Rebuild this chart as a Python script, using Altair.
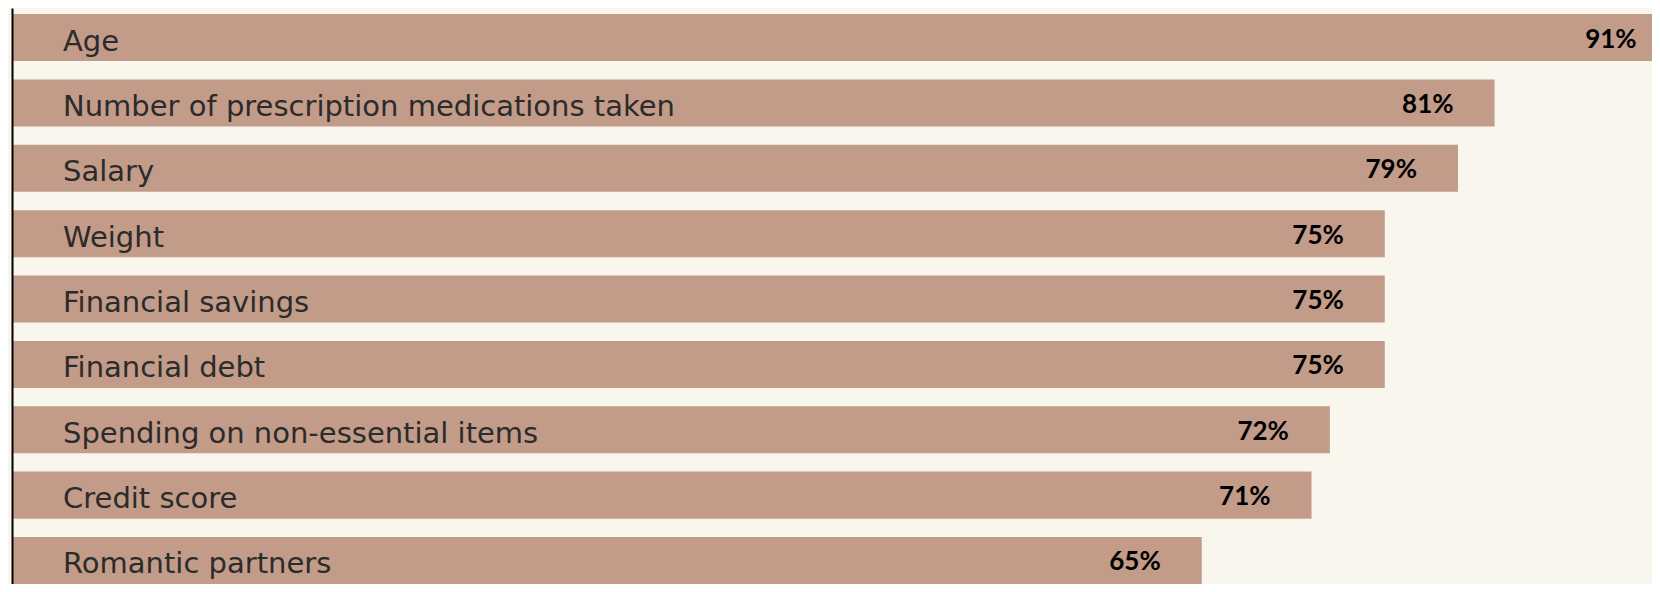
import altair as alt
import pandas as pd

categories = [
    "Age",
    "Number of prescription medications taken",
    "Salary",
    "Weight",
    "Financial savings",
    "Financial debt",
    "Spending on non-essential items",
    "Credit score",
    "Romantic partners",
]
values = [91, 81, 79, 75, 75, 75, 72, 71, 65]
value_labels = ["91%", "81%", "79%", "75%", "75%", "75%", "72%", "71%", "65%"]

df = pd.DataFrame({"category": categories, "value": values, "label": value_labels})

BG = "#F9F6EE"
BAR = "#C29B89"

y_enc = alt.Y(
    "category:N",
    sort=None,
    scale=alt.Scale(paddingInner=0.281, paddingOuter=0.046, align=1),
    axis=alt.Axis(
        labels=False, ticks=False, title=None, grid=False,
        domainColor="#000000", domainWidth=2, zindex=1, minExtent=0,
    ),
)
x_scale = alt.Scale(domain=[0, 89.6], nice=False, zero=True)

bars = alt.Chart(df).mark_bar(color=BAR, clip=True).encode(
    x=alt.X("value:Q", scale=x_scale, axis=None),
    y=y_enc,
)

cat_text = alt.Chart(df).mark_text(
    align="left", baseline="alphabetic", dx=51, dy=13,
    font="DejaVu Sans", fontSize=29, color="#2B2B2B",
).encode(
    x=alt.datum(0, scale=x_scale),
    y=alt.Y("category:N", sort=None),
    text="category:N",
)

val_text = alt.Chart(df).mark_text(
    align="right", baseline="alphabetic", dx=-41, dy=10,
    font="Lato", fontWeight="bold", fontSize=26, color="#000000",
).encode(
    x=alt.X("value:Q", scale=x_scale),
    y=alt.Y("category:N", sort=None),
    text="label:N",
)

chart = (
    alt.layer(bars, cat_text, val_text)
    .properties(
        width=1640,
        height=576,
        background=BG,
        padding={"left": 4, "top": 0, "right": 0, "bottom": 0},
        autosize=alt.AutoSizeParams(type="none"),
    )
    .configure_view(stroke=None)
)

chart.save("out.html", embed_options={"renderer": "svg", "actions": False})
